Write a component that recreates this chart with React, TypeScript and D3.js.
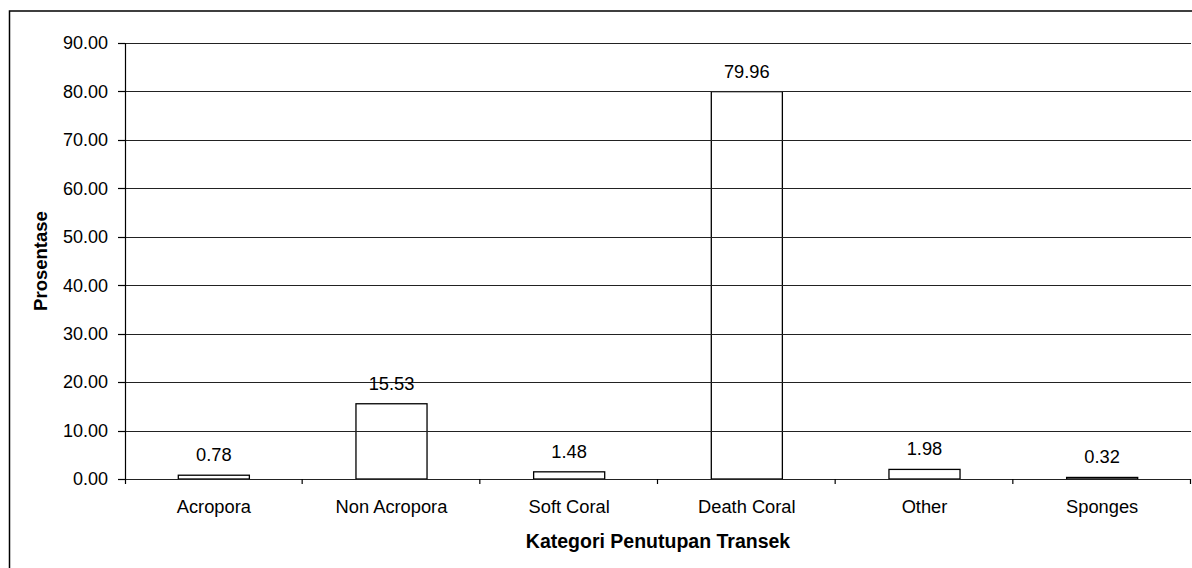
import React from "react";
import * as d3 from "d3";

const categories = ["Acropora", "Non Acropora", "Soft Coral", "Death Coral", "Other", "Sponges"];
const values = [0.78, 15.53, 1.48, 79.96, 1.98, 0.32];
const yTicks = [0, 10, 20, 30, 40, 50, 60, 70, 80, 90];

const W = 1192;
const H = 568;
const M = { left: 125, right: 1191, top: 43, bottom: 479 };
const FONT = "'Liberation Sans', Arial, sans-serif";

export default function App() {
  const x = d3.scaleBand<string>().domain(categories).range([M.left, M.right]).paddingInner(0).paddingOuter(0);
  const y = d3.scaleLinear().domain([0, 90]).range([M.bottom, M.top]);
  const bw = x.bandwidth() * 0.4;
  const boundaries = categories.map((_, i) => M.left + x.step() * (i + 1));

  return (
    <svg width={W} height={H} style={{ position: "absolute", left: 0, top: 0, background: "#fff" }} fontFamily={FONT}>
      <rect x={9.5} y={11} width={W + 10} height={H + 10} fill="#fff" stroke="#000" strokeWidth={1.5} />
      {/* bars */}
      {categories.map((c, i) => {
        const cx = (x(c) as number) + x.bandwidth() / 2;
        const yt = y(values[i]);
        return (
          <rect key={c} x={cx - bw / 2} y={yt} width={bw} height={Math.max(y(0) - yt, 0)} fill="none" stroke="#000" strokeWidth={1.3} />
        );
      })}
      {/* gridlines */}
      {yTicks.map((t) => (
        <line key={t} x1={M.left} x2={M.right} y1={Math.round(y(t)) + 0.5} y2={Math.round(y(t)) + 0.5} stroke="#222" strokeWidth={1.2} />
      ))}
      {/* y axis */}
      <line x1={M.left + 0.5} x2={M.left + 0.5} y1={M.top} y2={M.bottom + 5} stroke="#000" strokeWidth={1.2} />
      {yTicks.map((t) => (
        <g key={"yt" + t}>
          <line x1={M.left - 7} x2={M.left} y1={Math.round(y(t)) + 0.5} y2={Math.round(y(t)) + 0.5} stroke="#000" strokeWidth={1.2} />
          <text x={M.left - 17} y={y(t)} dy="0.35em" textAnchor="end" fontSize={18} fill="#000">
            {d3.format(".2f")(t)}
          </text>
        </g>
      ))}
      {/* x ticks */}
      {boundaries.map((b, i) => (
        <line key={"xt" + i} x1={b - 0.5} x2={b - 0.5} y1={M.bottom} y2={M.bottom + 5} stroke="#000" strokeWidth={1.2} />
      ))}
      {/* category labels */}
      {categories.map((c) => (
        <text key={"cl" + c} x={(x(c) as number) + x.bandwidth() / 2} y={507} dy="0.35em" textAnchor="middle" fontSize={18.3} fill="#000">
          {c}
        </text>
      ))}
      {/* value labels */}
      {categories.map((c, i) => (
        <text key={"vl" + c} x={(x(c) as number) + x.bandwidth() / 2} y={y(values[i]) - 14} textAnchor="middle" fontSize={18.3} fill="#000">
          {d3.format(".2f")(values[i])}
        </text>
      ))}
      {/* axis titles */}
      <text x={(M.left + M.right) / 2} y={541} dy="0.35em" textAnchor="middle" fontSize={19.5} fontWeight="bold" fill="#000">
        Kategori Penutupan Transek
      </text>
      <text transform={`translate(41,${(M.top + M.bottom) / 2}) rotate(-90)`} dy="0.35em" textAnchor="middle" fontSize={18.5} fontWeight="bold" fill="#000">
        Prosentase
      </text>
    </svg>
  );
}
